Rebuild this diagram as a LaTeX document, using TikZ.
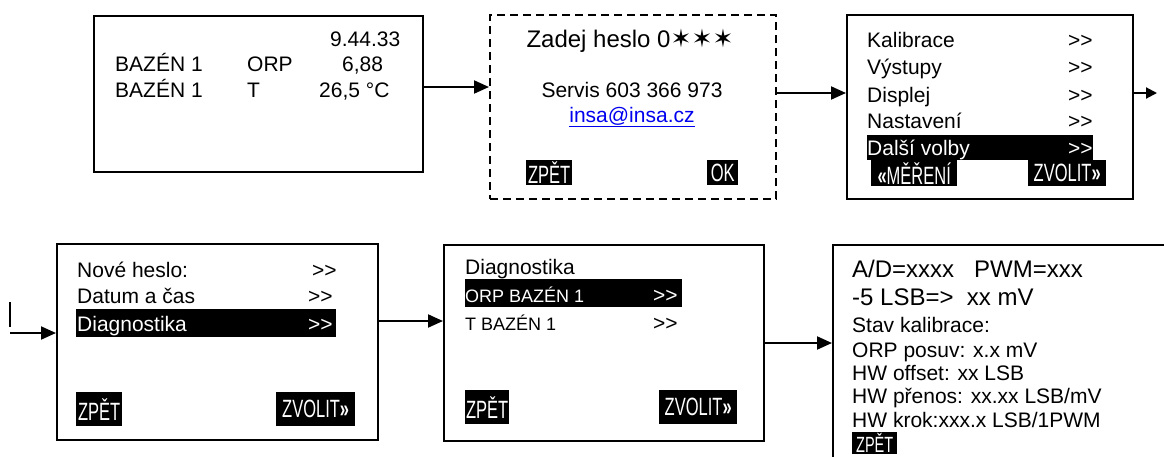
\documentclass[tikz,border=0pt]{standalone}
\usepackage{fontspec}
\setmainfont{Liberation Sans}[Ligatures=TeXOff]
\newfontfamily\narrowfont[FakeStretch=0.66,Ligatures=TeXOff]{Liberation Sans}
\newfontfamily\starfont{DejaVu Sans}
\usetikzlibrary{arrows.meta}
\definecolor{linkblue}{RGB}{0,0,238}

\tikzset{
  screen/.style={draw, line width=2pt, anchor=north west, inner sep=0},
  lbl/.style={anchor=base west, inner sep=0, font=\fontsize{21}{25}\selectfont},
  lblbig/.style={lbl, font=\fontsize{24}{28}\selectfont},
  lblsmall/.style={lbl, font=\fontsize{18}{22}\selectfont},
  inv/.style={text=white},
  btn/.style={fill=black, text=white, inner sep=0, anchor=north west,
              font=\narrowfont\fontsize{25}{28}\selectfont},
  bar/.style={fill=black, inner sep=0, anchor=north west},
  flow/.style={line width=2pt, -{Triangle[length=15pt,width=13pt]}},
  flowsmall/.style={line width=2pt, -{Triangle[length=11pt,width=11pt]}},
}
\newcommand{\rsel}{\textbf{»}}
\newcommand{\lsel}{\textbf{«}}

\begin{document}
\begin{tikzpicture}[x=1pt, y=-1pt]
\clip (0,0) rectangle (1164,456);

% ---------- measured values screen ----------
\node[screen, minimum width=329, minimum height=156] (s1) at (93,15) {};
\node[lbl] (t1a) at (330,46) {9.44.33};
\node[lbl] (t1b) at (115,71) {BAZÉN 1};
\node[lbl] (t1c) at (247,71) {ORP};
\node[lbl] (t1d) at (342,71) {6,88};
\node[lbl] (t1e) at (115,97) {BAZÉN 1};
\node[lbl] (t1f) at (247,97) {T};
\node[lbl] (t1g) at (319,97) {26,5 °C};

% ---------- password screen ----------
\node[screen, dash pattern=on 8pt off 5pt, minimum width=286, minimum height=184] (s2) at (489,14) {};
\node[lblbig, anchor=base] (t2a) at (630,47) {Zadej heslo 0{\starfont\fontsize{25}{28}\selectfont ✶✶✶}};
\node[lbl, anchor=base] (t2b) at (632,97) {Servis 603 366 973};
\node[lbl, anchor=base, text=linkblue] (t2c) at (632,122) {\underline{insa@insa.cz}};
\node[btn, minimum width=46, minimum height=25] (b2a) at (526,160) {ZPĚT};
\node[btn, minimum width=31, minimum height=25] (b2b) at (707,160) {OK};

% ---------- main menu ----------
\node[screen, minimum width=286, minimum height=184] (s3) at (846,14) {};
\node[lbl] (m1) at (867,47) {Kalibrace};
\node[lbl] (m2) at (867,74) {Výstupy};
\node[lbl] (m3) at (867,102) {Displej};
\node[lbl] (m4) at (867,128) {Nastavení};
\node[lbl] (r1) at (1068,47) {>>};
\node[lbl] (r2) at (1068,74) {>>};
\node[lbl] (r3) at (1068,102) {>>};
\node[lbl] (r4) at (1068,128) {>>};
\node[bar, minimum width=226, minimum height=25] (sel3) at (867,135) {};
\node[lbl, inv] (m5) at (867,155) {Další volby};
\node[lbl, inv] (r5) at (1068,155) {>>};
\node[btn, minimum width=86, minimum height=26] (b3a) at (871,160) {\lsel MĚŘENÍ};
\node[btn, minimum width=78, minimum height=26] (b3b) at (1028,160) {ZVOLIT\rsel};

% ---------- further options ----------
\node[screen, minimum width=321, minimum height=196] (s4) at (56,243) {};
\node[lbl] (n1) at (77,277) {Nové heslo:};
\node[lbl] (n2) at (77,303) {Datum a čas};
\node[lbl] (q1) at (312,277) {>>};
\node[lbl] (q2) at (308,303) {>>};
\node[bar, minimum width=260, minimum height=28] (sel4) at (76,309) {};
\node[lbl, inv] (n3) at (77,331) {Diagnostika};
\node[lbl, inv] (q3) at (308,331) {>>};
\node[btn, minimum width=46, minimum height=34] (b4a) at (76,392) {ZPĚT};
\node[btn, minimum width=79, minimum height=34] (b4b) at (276,392) {ZVOLIT\rsel};

% ---------- diagnostics menu ----------
\node[screen, minimum width=320, minimum height=196] (s5) at (443,244) {};
\node[lbl] (d0) at (465,274) {Diagnostika};
\node[bar, minimum width=217, minimum height=28] (sel5) at (465,279) {};
\node[lblsmall, inv] (d1) at (465,302) {ORP BAZÉN 1};
\node[lbl, inv] (e1) at (653,302) {>>};
\node[lblsmall] (d2) at (465,330) {T BAZÉN 1};
\node[lbl] (e2) at (653,330) {>>};
\node[btn, minimum width=44, minimum height=34] (b5a) at (465,390) {ZPĚT};
\node[btn, minimum width=78, minimum height=34] (b5b) at (659,390) {ZVOLIT\rsel};

% ---------- ORP diagnostics detail ----------
\node[screen, minimum width=360, minimum height=240] (s6) at (832,244) {};
\node[lblbig] (g1) at (852,277) {A/D=xxxx\ \ \ PWM=xxx};
\node[lblbig] (g2) at (852,305) {-5 LSB=>\ \ xx mV};
\node[lbl] (g3) at (852,332) {Stav kalibrace:};
\node[lbl] (g4) at (852,357) {ORP posuv: x.x mV};
\node[lbl] (g5) at (852,380) {HW offset: xx LSB};
\node[lbl] (g6) at (852,403) {HW přenos: xx.xx LSB/mV};
\node[lbl] (g7) at (852,427) {HW krok:xxx.x LSB/1PWM};
\node[btn, minimum width=45, minimum height=22, font=\narrowfont\fontsize{22}{24}\selectfont] (b6a) at (852,432) {ZPĚT};

% ---------- connectors ----------
\coordinate (out3) at (1157,93);
\coordinate (cont1) at (10,302);
\coordinate (cont2) at (10,327);
\coordinate (cont3) at (10,333);

\draw[flow] (s1.east |- 0,87) -- (s2.west |- 0,87);
\draw[flow] (s2.east |- 0,93) -- (s3.west |- 0,93);
\draw[flowsmall] (s3.east |- out3) -- (out3);
\draw[line width=2pt] (cont1) -- (cont2);
\draw[flow] (cont3) -- (s4.west |- cont3);
\draw[flow] (s4.east |- 0,321) -- (s5.west |- 0,321);
\draw[flow] (s5.east |- 0,343) -- (s6.west |- 0,343);
\end{tikzpicture}
\end{document}
